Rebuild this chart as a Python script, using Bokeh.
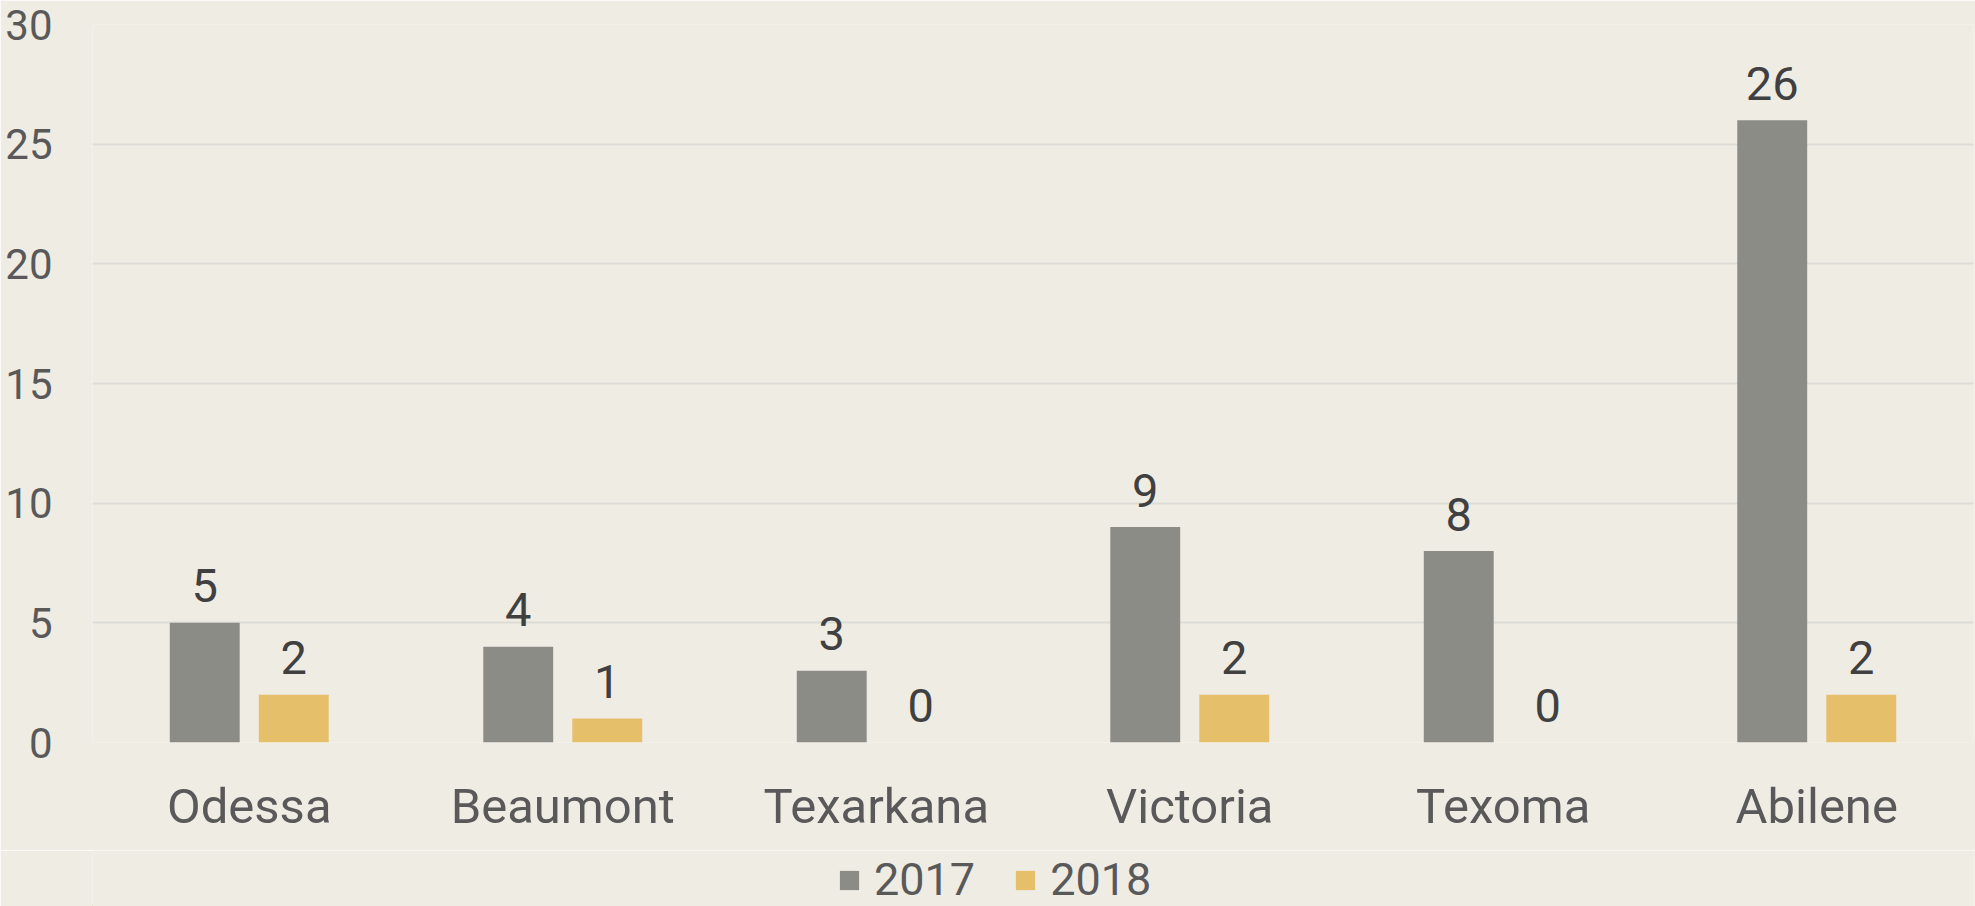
from bokeh.plotting import figure
from bokeh.models import ColumnDataSource, Legend, LegendItem, FixedTicker
from bokeh.transform import dodge
from bokeh.layouts import column
from bokeh.embed import file_html
from bokeh.resources import INLINE
from bokeh.core.properties import value

cities = ["Odessa", "Beaumont", "Texarkana", "Victoria", "Texoma", "Abilene"]
v2017 = [5, 4, 3, 9, 8, 26]
v2018 = [2, 1, 0, 2, 0, 2]
years = ["2017", "2018"]
y_ticks = [0, 5, 10, 15, 20, 25, 30]

BG = "#efece4"
C2017 = "#8b8c85"
C2018 = "#e5bf69"
FONT = "Roboto"

src = ColumnDataSource(dict(
    city=cities, v2017=v2017, v2018=v2018,
    l2017=[str(v) for v in v2017], l2018=[str(v) for v in v2018],
))

p = figure(x_range=cities, y_range=(0, 30),
           width=1975, height=850,
           output_backend="svg", toolbar_location=None,
           background_fill_color=BG, border_fill_color=BG,
           outline_line_color=None,
           min_border_left=92, min_border_right=2,
           min_border_top=24, min_border_bottom=108)

off = 0.142
bw = 0.223
p.vbar(x=dodge("city", -off, range=p.x_range), top="v2017", width=bw,
       source=src, fill_color=C2017, line_color=None)
p.vbar(x=dodge("city", off, range=p.x_range), top="v2018", width=bw,
       source=src, fill_color=C2018, line_color=None)

for col, lab, o in (("v2017", "l2017", -off), ("v2018", "l2018", off)):
    p.text(x=dodge("city", o, range=p.x_range), y=col, text=lab, source=src,
           text_align="center", text_baseline="middle", y_offset=-37,
           text_font=value(FONT), text_font_size="47px", text_color="#404040")

p.xgrid.grid_line_color = None
p.ygrid.grid_line_color = "#dcdbd6"
p.ygrid.grid_line_width = 2
p.yaxis.ticker = FixedTicker(ticks=y_ticks)

for ax in (p.xaxis[0], p.yaxis[0]):
    ax.axis_line_color = None
    ax.major_tick_line_color = None
    ax.minor_tick_line_color = None
    ax.major_tick_out = 0
    ax.minor_tick_out = 0
    ax.major_label_text_color = "#595959"
    ax.major_label_text_font = FONT

p.yaxis.major_label_standoff = 40
p.yaxis.major_label_text_font_size = "42px"
p.xaxis.major_label_text_font_size = "49px"
p.xaxis.major_label_standoff = 35

# legend strip below the chart
lg = figure(width=1975, height=56, x_range=(0, 1975), y_range=(0, 56),
            output_backend="svg", toolbar_location=None,
            x_axis_type=None, y_axis_type=None,
            background_fill_color=BG, border_fill_color=BG,
            outline_line_color=None,
            min_border_left=0, min_border_right=0,
            min_border_top=0, min_border_bottom=0)
lg.xgrid.grid_line_color = None
lg.ygrid.grid_line_color = None
d1 = lg.vbar(x=[-1000], top=[1], width=1, fill_color=C2017, line_color=None)
d2 = lg.vbar(x=[-1000], top=[1], width=1, fill_color=C2018, line_color=None)
legend = Legend(items=[LegendItem(label=years[0], renderers=[d1]),
                       LegendItem(label=years[1], renderers=[d2])],
                orientation="horizontal", location=(745, 0),
                background_fill_alpha=0, border_line_color=None,
                label_text_font=FONT, label_text_font_size="45px",
                label_text_color="#595959",
                glyph_width=24, glyph_height=24, label_standoff=13,
                spacing=38, padding=0, margin=0)
lg.add_layout(legend, "center")

page = column(p, lg, spacing=0)
open("out.html", "w").write(file_html(page, INLINE))
